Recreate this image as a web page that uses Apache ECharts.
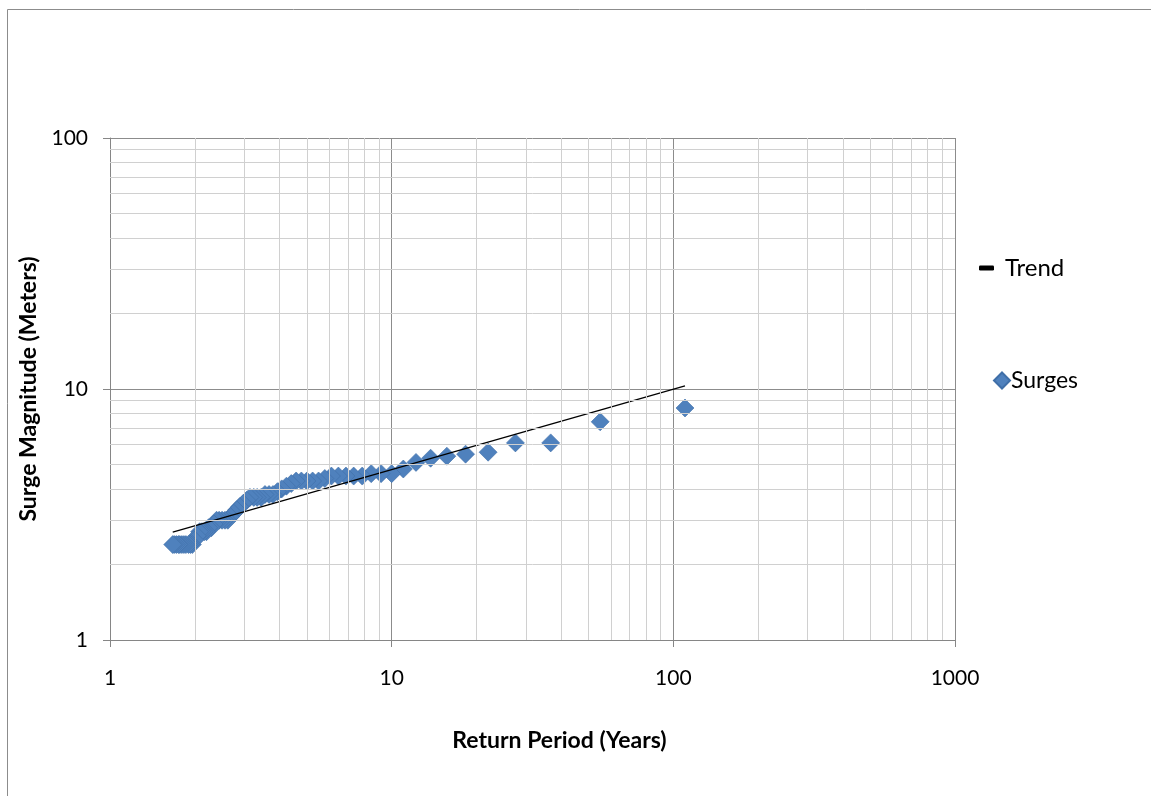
<!DOCTYPE html>
<html>
<head>
<meta charset="utf-8">
<script src="https://cdn.jsdelivr.net/npm/echarts@6/dist/echarts.min.js"></script>
<style>
html,body{margin:0;padding:0;background:#fff;}
#chart{width:1151px;height:796px;}
</style>
</head>
<body>
<div id="chart"></div>
<script>
// Surge data
const returnPeriod = [110, 55, 36.7, 27.5, 22, 18.3, 15.7, 13.75, 12.2, 11,
  10, 9.17, 8.46, 7.86, 7.33, 6.88, 6.47, 6.11, 5.79, 5.5,
  5.24, 5.0, 4.78, 4.58, 4.4, 4.23, 4.07, 3.93, 3.79, 3.67,
  3.55, 3.44, 3.33, 3.24, 3.14, 3.06, 2.97, 2.89, 2.82, 2.75,
  2.68, 2.62, 2.56, 2.5, 2.44, 2.39, 2.34, 2.29, 2.24, 2.2,
  2.16, 2.12, 2.08, 2.04, 2.0, 1.96, 1.93, 1.9, 1.86, 1.83,
  1.8, 1.77, 1.75, 1.72, 1.69, 1.67];
const surgeMagnitude = [8.4, 7.4, 6.1, 6.1, 5.6, 5.5, 5.4, 5.3, 5.1, 4.8,
  4.6, 4.6, 4.6, 4.5, 4.5, 4.5, 4.5, 4.5, 4.4, 4.3,
  4.3, 4.3, 4.3, 4.3, 4.2, 4.1, 4.0, 3.9, 3.8, 3.8,
  3.8, 3.7, 3.7, 3.7, 3.7, 3.6, 3.5, 3.4, 3.3, 3.2,
  3.1, 3.0, 3.0, 3.0, 3.0, 3.0, 2.9, 2.8, 2.8, 2.7,
  2.7, 2.7, 2.7, 2.6, 2.5, 2.4, 2.4, 2.4, 2.4, 2.4,
  2.4, 2.4, 2.4, 2.4, 2.4, 2.4];
// Trend line end points
const trendPeriod = [1.67, 110];
const trendMagnitude = [2.69, 10.3];
// Minor gridline values
const minorPeriodLines = [2,3,4,5,6,7,8,9,20,30,40,50,60,70,80,90,200,300,400,500,600,700,800,900];
const minorMagnitudeLines = [2,3,4,5,6,7,8,9,20,30,40,50,60,70,80,90];

const FONT = 'Lato, "Open Sans", sans-serif';
const surges = returnPeriod.map((x, i) => [x, surgeMagnitude[i]]);
const trend = trendPeriod.map((x, i) => [x, trendMagnitude[i]]);
const minorLines = minorPeriodLines.map(v => ({xAxis: v}))
  .concat(minorMagnitudeLines.map(v => ({yAxis: v})));
const plainNumber = v => String(Math.round(v));

const chart = echarts.init(document.getElementById('chart'), null, {renderer: 'canvas'});
chart.setOption({
  backgroundColor: '#ffffff',
  animation: false,
  graphic: [{
    type: 'rect', left: 5, top: 7, z: -10,
    shape: {x: 0, y: 0, width: 1300, height: 900},
    style: {fill: 'none', stroke: '#8c8c8c', lineWidth: 1}
  }],
  grid: {left: 110, top: 138, right: 196, bottom: 156, containLabel: false},
  legend: [{
    orient: 'vertical', left: 974, top: 251,
    data: [{name: 'Trend', icon: 'roundRect'}],
    itemWidth: 15, itemHeight: 5, itemGap: 10,
    textStyle: {fontFamily: FONT, fontSize: 24, color: '#000', padding: [0, 0, 0, 6]}
  }, {
    orient: 'vertical', left: 988, top: 364,
    data: [{name: 'Surges', icon: 'diamond'}],
    itemWidth: 16, itemHeight: 16,
    textStyle: {fontFamily: FONT, fontSize: 23, color: '#000', padding: [0, 0, 0, -4]}
  }],
  xAxis: {
    type: 'log', logBase: 10, min: 1, max: 1000,
    name: 'Return Period (Years)', nameLocation: 'middle', nameGap: 89,
    nameTextStyle: {fontFamily: FONT, fontSize: 23, fontWeight: 'bold', color: '#000', padding: [0, 0, 0, 54]},
    axisLine: {show: true, lineStyle: {color: '#868686', width: 1}},
    axisTick: {show: true, length: 7, inside: false, lineStyle: {color: '#868686'}},
    axisLabel: {fontFamily: FONT, fontSize: 21, color: '#000', margin: 28, formatter: plainNumber},
    splitLine: {show: true, lineStyle: {color: '#8c8c8c', width: 1}},
    minorTick: {show: false}, minorSplitLine: {show: false}
  },
  yAxis: {
    type: 'log', logBase: 10, min: 1, max: 100,
    name: 'Surge Magnitude (Meters)', nameLocation: 'middle', nameGap: 63,
    nameTextStyle: {fontFamily: FONT, fontSize: 23, fontWeight: 'bold', color: '#000'},
    axisLine: {show: true, lineStyle: {color: '#868686', width: 1}},
    axisTick: {show: true, length: 7, inside: false, lineStyle: {color: '#868686'}},
    axisLabel: {fontFamily: FONT, fontSize: 21, color: '#000', margin: 22, formatter: plainNumber},
    splitLine: {show: true, lineStyle: {color: '#8c8c8c', width: 1}},
    minorTick: {show: false}, minorSplitLine: {show: false}
  },
  series: [{
    name: 'gridMinor', type: 'line', data: [], z: 0, silent: true,
    markLine: {
      silent: true, symbol: 'none', animation: false,
      label: {show: false},
      lineStyle: {color: '#d0d0d0', width: 1, type: 'solid'},
      emphasis: {disabled: true},
      data: minorLines
    }
  }, {
    name: 'Surges', type: 'scatter', data: surges, z: 3,
    symbol: 'diamond', symbolSize: 18,
    itemStyle: {color: '#4f81bd', opacity: 1, borderColor: '#3f6fa8', borderWidth: 0.6}
  }, {
    name: 'Trend', type: 'line', data: trend, z: 4,
    showSymbol: false, symbol: 'none',
    lineStyle: {color: '#000000', width: 1.3},
    itemStyle: {color: '#000000'}
  }]
});
</script>
</body>
</html>
